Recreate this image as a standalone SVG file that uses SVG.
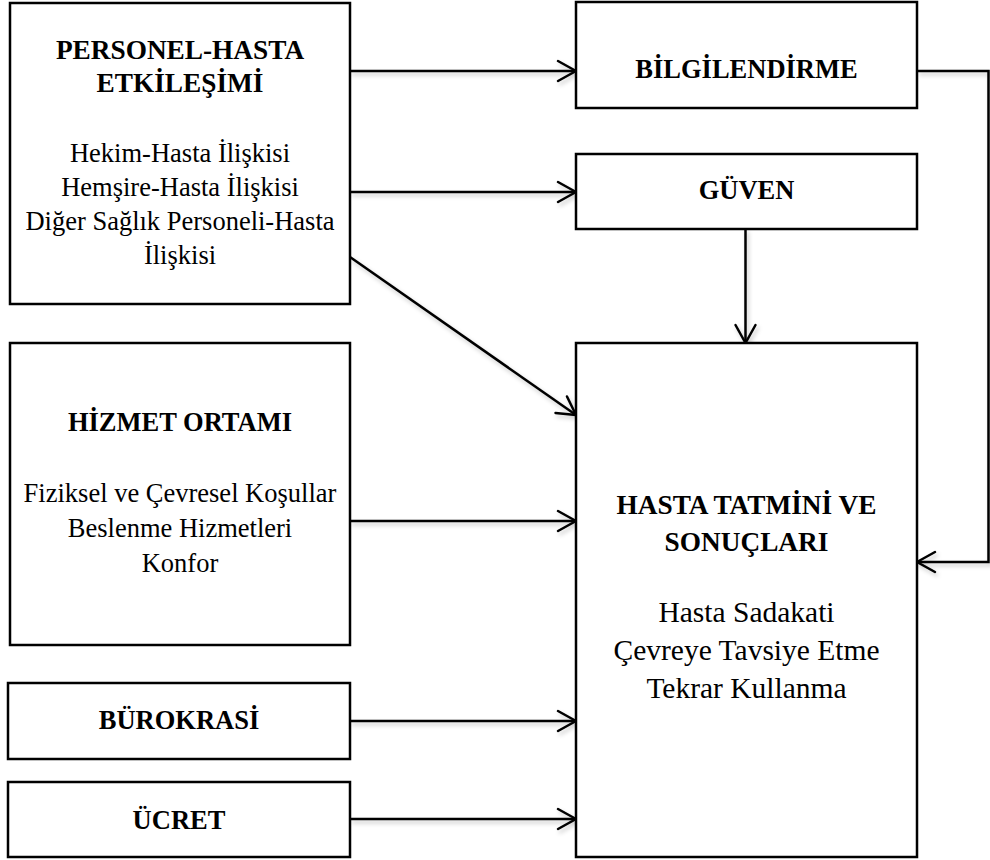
<svg xmlns="http://www.w3.org/2000/svg" width="990" height="860" viewBox="0 0 990 860">
  <style>
    .box { fill: #ffffff; stroke: #000000; stroke-width: 2.5; }
    text { font-family: "Liberation Serif", "DejaVu Serif", serif; font-size: 26.5px; fill: #000000; text-anchor: middle; }
    .title { font-weight: bold; }
    .big { font-size: 27.3px; }
    .outcome { font-size: 29.5px; }
    .link { fill: none; stroke: #000000; stroke-width: 2.5; marker-end: url(#arrow); }
  </style>
  <defs>
    <marker id="arrow" viewBox="-22 -13 24 26" refX="0" refY="0" markerWidth="24" markerHeight="26" markerUnits="userSpaceOnUse" orient="auto">
      <path d="M-18,-10 L0,0 L-18,10" fill="none" stroke="#000000" stroke-width="2.5" stroke-linecap="round" stroke-linejoin="round"/>
    </marker>
    <filter id="soft" x="-10%" y="-10%" width="130%" height="140%">
      <feDropShadow dx="2" dy="3" stdDeviation="2" flood-color="#000000" flood-opacity="0.22"/>
    </filter>
  </defs>

  <!-- connectors -->
  <g id="connectors" filter="url(#soft)">
    <line class="link" x1="350" y1="71" x2="576" y2="71"/>
    <line class="link" x1="350" y1="192" x2="576" y2="192"/>
    <line class="link" x1="350" y1="257" x2="576" y2="415"/>
    <line class="link" x1="745.5" y1="229" x2="745.5" y2="343"/>
    <line class="link" x1="350" y1="521" x2="576" y2="521"/>
    <line class="link" x1="350" y1="721" x2="576" y2="721"/>
    <line class="link" x1="350" y1="819" x2="576" y2="819"/>
    <polyline class="link" points="917,71 988.5,71 988.5,562 917,562"/>
  </g>

  <!-- staff-patient interaction -->
  <g id="personel-hasta">
    <rect class="box" x="10" y="3" width="340" height="301"/>
    <text class="title big" x="180" y="59">PERSONEL-HASTA</text>
    <text class="title big" x="180" y="92">ETKİLEŞİMİ</text>
    <text x="180" y="162">Hekim-Hasta İlişkisi</text>
    <text x="180" y="196">Hemşire-Hasta İlişkisi</text>
    <text x="180" y="230">Diğer Sağlık Personeli-Hasta</text>
    <text x="180" y="264">İlişkisi</text>
  </g>

  <!-- service environment -->
  <g id="hizmet-ortami">
    <rect class="box" x="10" y="343" width="340" height="302"/>
    <text class="title" x="180" y="431">HİZMET ORTAMI</text>
    <text x="180" y="502">Fiziksel ve Çevresel Koşullar</text>
    <text x="180" y="537">Beslenme Hizmetleri</text>
    <text x="180" y="572">Konfor</text>
  </g>

  <g id="burokrasi">
    <rect class="box" x="8" y="683" width="342" height="76"/>
    <text class="title" x="179" y="729">BÜROKRASİ</text>
  </g>

  <g id="ucret">
    <rect class="box" x="8" y="782" width="342" height="75"/>
    <text class="title" x="179" y="829">ÜCRET</text>
  </g>

  <g id="bilgilendirme">
    <rect class="box" x="576" y="2" width="341" height="106"/>
    <text class="title" x="746.5" y="78">BİLGİLENDİRME</text>
  </g>

  <g id="guven">
    <rect class="box" x="576" y="154" width="341" height="75"/>
    <text class="title" x="746.5" y="199">GÜVEN</text>
  </g>

  <!-- outcome -->
  <g id="hasta-tatmini">
    <rect class="box" x="576" y="343" width="341" height="514"/>
    <text class="title big" x="746.5" y="514">HASTA TATMİNİ VE</text>
    <text class="title big" x="746.5" y="551">SONUÇLARI</text>
    <text class="outcome" x="746.5" y="622">Hasta Sadakati</text>
    <text class="outcome" x="746.5" y="660">Çevreye Tavsiye Etme</text>
    <text class="outcome" x="746.5" y="698">Tekrar Kullanma</text>
  </g>
</svg>
